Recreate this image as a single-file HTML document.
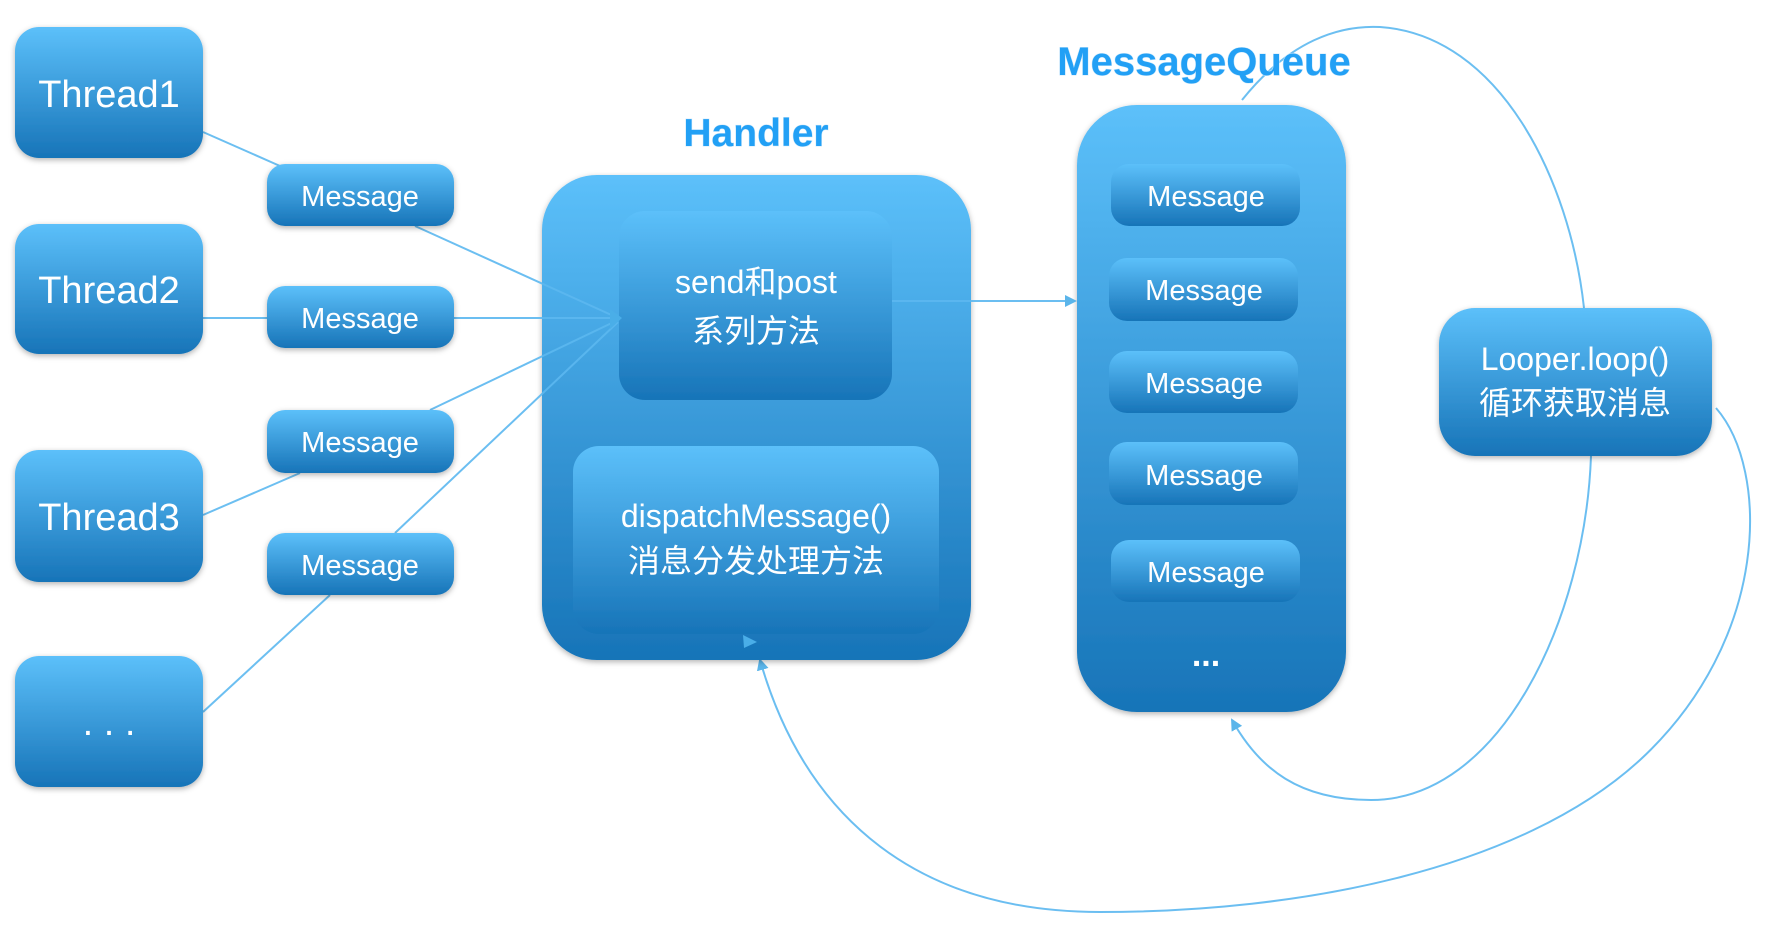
<!DOCTYPE html>
<html><head><meta charset="utf-8"><style>
html,body{margin:0;padding:0;background:#fff;}
svg{display:block;}
text{font-family:"Liberation Sans","Noto Sans CJK SC",sans-serif;}
</style></head><body>
<svg width="1766" height="926" viewBox="0 0 1766 926" xmlns="http://www.w3.org/2000/svg">
<defs>
<linearGradient id="g" x1="0" y1="0" x2="0" y2="1">
<stop offset="0" stop-color="#5cc0fa"/><stop offset="1" stop-color="#1774b8"/>
</linearGradient>
<filter id="sh" x="-20%" y="-20%" width="140%" height="140%">
<feDropShadow dx="0" dy="2" stdDeviation="3" flood-color="#000" flood-opacity="0.3"/>
</filter>
<marker id="ar" markerWidth="12" markerHeight="12" refX="10" refY="6" orient="auto" markerUnits="userSpaceOnUse">
<path d="M0,0 L12,6 L0,12 z" fill="#4aaee8"/>
</marker>
</defs>

<!-- curves (behind) -->
<g stroke="#5cb8f0" stroke-width="2" fill="none" opacity="0.9">
<line x1="203" y1="132" x2="280" y2="166"/>
<line x1="203" y1="318" x2="270" y2="318"/>
<line x1="203" y1="515" x2="300" y2="473"/>
<line x1="203" y1="712" x2="330" y2="595"/>
<path d="M1242,100 C1290,40 1340,25 1380,27 C1500,35 1570,180 1584,308"/>
<path d="M1591,456 C1585,620 1500,800 1371,800 C1300,800 1260,770 1232,720" marker-end="url(#ar)"/>
<path d="M1716,408 C1770,470 1770,640 1640,760 C1520,870 1300,912 1100,912 C900,912 800,800 760,660" marker-end="url(#ar)"/>
</g>

<g filter="url(#sh)" fill="url(#g)">
<rect x="15" y="27" width="188" height="131" rx="24"/>
<rect x="15" y="224" width="188" height="130" rx="24"/>
<rect x="15" y="450" width="188" height="132" rx="24"/>
<rect x="15" y="656" width="188" height="131" rx="24"/>
<rect x="542" y="175" width="429" height="485" rx="55"/>
<rect x="619" y="211" width="273" height="189" rx="26"/>
<rect x="573" y="446" width="366" height="188" rx="26"/>
<rect x="1077" y="105" width="269" height="607" rx="60"/>
<rect x="1111" y="164" width="189" height="62" rx="18"/>
<rect x="1109" y="258" width="189" height="63" rx="18"/>
<rect x="1109" y="351" width="189" height="62" rx="18"/>
<rect x="1109" y="442" width="189" height="63" rx="18"/>
<rect x="1111" y="540" width="189" height="62" rx="18"/>
<rect x="1439" y="308" width="273" height="148" rx="36"/>
</g>

<!-- straight connectors on top -->
<g stroke="#5cb8f0" stroke-width="2" fill="none" opacity="0.9">
<line x1="415" y1="226" x2="618" y2="318"/>
<line x1="400" y1="318" x2="618" y2="318"/>
<line x1="430" y1="410" x2="618" y2="320"/>
<line x1="395" y1="533" x2="618" y2="322"/>
<line x1="892" y1="301" x2="1075" y2="301" marker-end="url(#ar)"/>
</g>
<path d="M610,309 L622,318 L610,329 z" fill="#4aaee8"/>
<path d="M743,635 L757,642 L744,648 z" fill="#4aaee8"/>

<g filter="url(#sh)" fill="url(#g)">
<rect x="267" y="164" width="187" height="62" rx="18"/>
<rect x="267" y="286" width="187" height="62" rx="18"/>
<rect x="267" y="410" width="187" height="63" rx="18"/>
<rect x="267" y="533" width="187" height="62" rx="18"/>
</g>

<g fill="#fff" text-anchor="middle">
<g font-size="38"><text x="109" y="107">Thread1</text><text x="109" y="303">Thread2</text><text x="109" y="530">Thread3</text><text x="109" y="735">. . .</text></g>
<g font-size="29">
<text x="360" y="206">Message</text><text x="360" y="328">Message</text><text x="360" y="452">Message</text><text x="360" y="575">Message</text>
<text x="1206" y="206">Message</text><text x="1204" y="300">Message</text><text x="1204" y="393">Message</text><text x="1204" y="485">Message</text><text x="1206" y="582">Message</text>
</g>
<g font-size="32">
<text x="756" y="293">send和post</text><text x="756" y="342">系列方法</text>
<text x="756" y="527">dispatchMessage()</text><text x="756" y="572">消息分发处理方法</text>
<text x="1575" y="370">Looper.loop()</text><text x="1575" y="414">循环获取消息</text>
</g>
<text x="1206" y="666" font-size="34" font-weight="bold">...</text>
</g>
<g fill="#22a0f5" font-weight="bold" text-anchor="middle" style="paint-order:stroke" stroke="#cfe9fb" stroke-width="1">
<text x="756" y="146" font-size="39">Handler</text>
<text x="1204" y="75" font-size="40">MessageQueue</text>
</g>
</svg>
</body></html>
